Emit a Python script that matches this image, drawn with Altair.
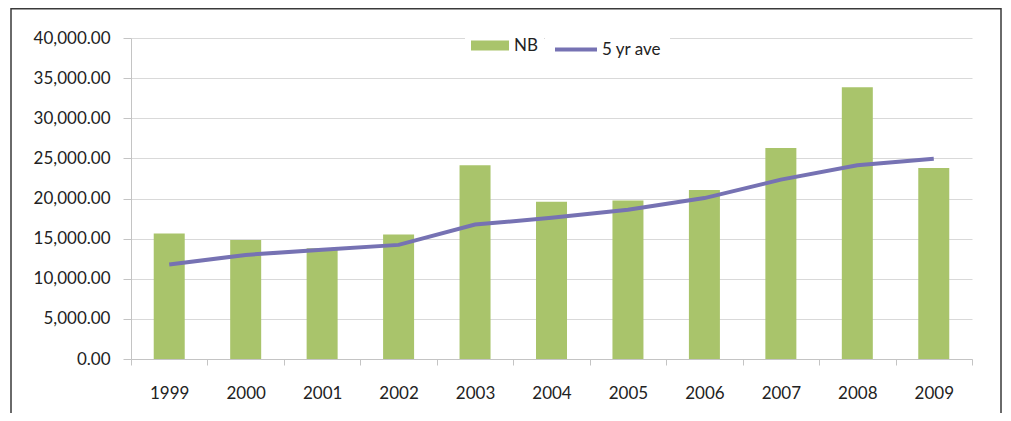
import altair as alt
import pandas as pd

years = [str(y) for y in range(1999, 2010)]
nb = [15630, 14840, 13800, 15500, 24150, 19600, 19750, 21050, 26300, 33850, 23800]
ave = [11780, 12970, 13600, 14220, 16750, 17600, 18600, 20050, 22350, 24150, 24950]
yticks = [0, 5000, 10000, 15000, 20000, 25000, 30000, 35000, 40000]

GREEN = "#A9C46B"
PURPLE = "#7672B3"
TEXT = "#222222"
AXIS = "#c4c4c4"
FONT = "Lato"

df = pd.DataFrame({"year": years, "NB": nb, "ave": ave,
                   "s1": ["NB"] * len(years), "s2": ["5 yr ave"] * len(years)})

W, H = 841, 321

xenc = alt.X(
    "year:O",
    title=None,
    scale=alt.Scale(paddingInner=0, paddingOuter=0),
    axis=alt.Axis(
        labelAngle=0, tickBand="extent", tickSize=6, labelPadding=20,
        domainColor=AXIS, tickColor=AXIS, labelFontSize=17, labelColor=TEXT,
        labelFont=FONT, grid=False,
    ),
)

yaxis = alt.Axis(
    values=yticks, format=",.2f", tickSize=8, labelPadding=13,
    domainColor=AXIS, tickColor=AXIS, labelFontSize=17, labelColor=TEXT,
    labelFont=FONT, grid=True, gridColor="#d9d9d9", gridWidth=1,
)
yscale = alt.Scale(domain=[0, 40000], nice=False)

bars = alt.Chart(df).mark_bar(size=31).encode(
    x=xenc,
    y=alt.Y("NB:Q", title=None, scale=yscale, axis=yaxis),
    color=alt.Color(
        "s1:N",
        scale=alt.Scale(domain=["NB"], range=[GREEN]),
        legend=alt.Legend(
            title=None, orient="none", legendX=334, legendY=-17.5,
            symbolType="M-1,-0.26H1V0.26H-1Z", symbolSize=1444,
            symbolStrokeWidth=0, labelOffset=5, labelFont=FONT,
            labelFontSize=17, labelColor=TEXT, fillColor="white", padding=6,
        ),
    ),
)

line = alt.Chart(df).mark_line(strokeWidth=4).encode(
    x=xenc,
    y=alt.Y("ave:Q", title=None, scale=yscale, axis=yaxis),
    color=alt.Color(
        "s2:N",
        scale=alt.Scale(domain=["5 yr ave"], range=[PURPLE]),
        legend=alt.Legend(
            title=None, orient="none", legendX=414, legendY=-19.5,
            symbolType="stroke", symbolSize=1764, symbolStrokeWidth=4,
            labelOffset=3, labelFont=FONT, labelFontSize=17,
            labelColor=TEXT, fillColor="white", padding=8,
        ),
    ),
)

frame = alt.Chart(pd.DataFrame({"f": [0]})).mark_rect(
    filled=False, stroke="#3a3a3a", strokeWidth=1.5
).encode(
    x=alt.value(-120), x2=alt.value(870), y=alt.value(-29.2), y2=alt.value(420)
)

chart = (
    alt.layer(bars, line, frame)
    .resolve_scale(color="independent")
    .properties(
        width=W, height=H, autosize="none",
        padding={"left": 123, "top": 30, "right": 31, "bottom": 54},
        background="white",
    )
    .configure_view(stroke=None)
)

chart.save("out.html", embed_options={"renderer": "svg", "actions": False})
